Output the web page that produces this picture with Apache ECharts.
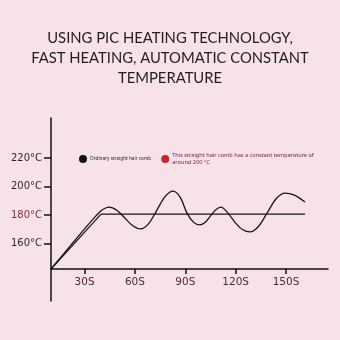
<!DOCTYPE html>
<html>
<head>
<meta charset="utf-8">
<script src="https://cdn.jsdelivr.net/npm/echarts@6/dist/echarts.min.js"></script>
<style>
html,body{margin:0;padding:0;background:#f8e2ea;}
#c{width:340px;height:340px;}
</style>
</head>
<body>
<div id="c"></div>
<script>
var titleLines = ['USING PIC HEATING TECHNOLOGY,', 'FAST HEATING, AUTOMATIC CONSTANT', 'TEMPERATURE'];
var seriesNames = ['Ordinary straight hair comb', 'This straight hair comb has a constant temperature of\naround 200 \u00b0C'];
var xTicks = [30, 60, 90, 120, 150];
var yTicks = [160, 180, 200, 220];
// wavy curve (ordinary comb): [seconds, temperature]
var ordinaryData = [
  [10, 142.4], [20, 156.5], [30, 170.5], [36, 178.5], [40, 183.3], [44.5, 185.7],
  [49.2, 183.5], [54, 178], [58.7, 172.6], [63.5, 170.4],
  [68.3, 174.3], [73.1, 183.6], [77.9, 193], [82.7, 196.9],
  [87, 192.5], [91, 181.5], [95, 175], [98.7, 173.2],
  [101.9, 175], [105, 179.5], [108.2, 183.9], [111.3, 185.7],
  [115.4, 181.5], [120, 174.5], [124, 170], [128.5, 168.3],
  [133.7, 172.3], [138.9, 181.9], [144.1, 191.5], [149.3, 195.5],
  [155, 194], [161.3, 189.2]
];
// constant temperature comb
var constantData = [[10, 142.4], [39.8, 180.8], [161.3, 180.8]];

var chart = echarts.init(document.getElementById('c'));
chart.setOption({
  backgroundColor: '#f8e2ea',
  animation: false,
  title: {
    text: titleLines.join('\n'),
    left: 'center',
    top: 23,
    textStyle: { fontFamily: 'Lato', fontSize: 14.8, fontWeight: 'normal', color: '#1e1e1e', lineHeight: 20 }
  },
  legend: {
    left: 74, top: 147,
    itemWidth: 8, itemHeight: 8, itemGap: 10,
    icon: 'circle',
    data: [
      { name: seriesNames[0], itemStyle: { color: '#111' }, textStyle: { color: '#222', fontSize: 4.7 } },
      { name: seriesNames[1], itemStyle: { color: '#c8202c' }, textStyle: { color: '#7a1f2a', fontSize: 5.6 } }
    ],
    textStyle: { fontSize: 5, fontFamily: 'Noto Sans', padding: [0, 0, 0, -2], lineHeight: 7 }
  },
  grid: { left: 51, right: 12, top: 118, bottom: 39 },
  xAxis: {
    type: 'value', min: 10, max: 175, offset: -32,
    splitLine: { show: false },
    axisLine: { lineStyle: { color: '#111', width: 1.5 } },
    axisTick: { customValues: xTicks, length: 5, lineStyle: { color: '#111', width: 1.5 } },
    axisLabel: { customValues: xTicks, formatter: function (v) { return v + 'S'; }, color: '#4a2a30', fontSize: 10.5, fontFamily: 'DejaVu Sans', margin: 8 }
  },
  yAxis: {
    type: 'value', min: 120, max: 248,
    splitLine: { show: false },
    axisLine: { show: true, lineStyle: { color: '#111', width: 1.5 } },
    axisTick: { show: true, customValues: yTicks, length: 7, lineStyle: { color: '#111', width: 1.5 } },
    axisLabel: {
      customValues: yTicks, margin: 9, fontSize: 10, fontFamily: 'DejaVu Sans',
      formatter: function (v) { return v + '\u00b0C'; },
      color: function (v) { return Number(v) === 180 ? '#8a2a30' : '#2a2a2a'; }
    }
  },
  series: [
    { name: seriesNames[0], type: 'line', data: ordinaryData, smooth: 0.3, showSymbol: false,
      lineStyle: { color: '#151515', width: 1.3 }, itemStyle: { color: '#111' } },
    { name: seriesNames[1], type: 'line', data: constantData, showSymbol: false,
      lineStyle: { color: '#151515', width: 1.2 }, itemStyle: { color: '#c8202c' } }
  ]
});
</script>
</body>
</html>
